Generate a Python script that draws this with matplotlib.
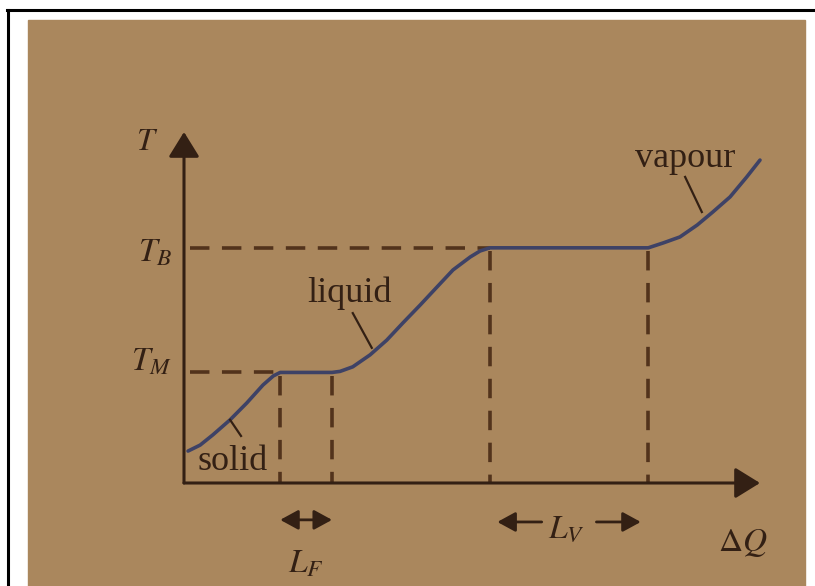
import matplotlib
matplotlib.use('Agg')
import matplotlib.pyplot as plt
from matplotlib.lines import Line2D
from matplotlib.patches import Rectangle

plt.rcParams['font.family'] = ['Liberation Serif', 'DejaVu Serif']
plt.rcParams['mathtext.fontset'] = 'stix'
plt.rcParams['lines.scale_dashes'] = False

# phase change temperatures and the heat ranges they span
T_M = 31.5
T_B = 67.0
Q_MELT = (16.7, 25.7)
Q_BOIL = (53.1, 80.6)

# heating curve, one piece per phase (heat in, temperature out)
solid_q = [0.7, 2.8, 5.0, 8.0, 10.9, 13.7, 15.5, 16.7]
solid_t = [9.1, 10.8, 13.7, 18.0, 22.8, 27.9, 30.5, 31.5]
liquid_q = [25.7, 27.1, 29.3, 32.3, 35.2, 38.0, 41.0, 43.9, 46.7, 49.7, 51.4, 53.1]
liquid_t = [31.5, 31.8, 33.1, 36.5, 40.7, 45.6, 50.7, 55.8, 60.7, 64.4, 66.1, 67.0]
vapour_q = [80.6, 83.2, 86.1, 89.1, 91.8, 94.8, 97.7, 100.0]
vapour_t = [67.0, 68.4, 70.1, 73.5, 77.2, 81.5, 87.2, 92.0]

# phase labels: text position and where the pointer meets the curve
phase_labels = ['solid', 'liquid', 'vapour']
label_xy = [(8.5, 3.7), (28.8, 51.6), (87.0, 90.0)]
pointer_from = [(9.9, 13.4), (32.6, 38.5), (89.9, 77.2)]
pointer_to = [(8.0, 18.0), (29.3, 48.4), (87.0, 87.2)]

INK = '#332014'
DASH = '#52331c'
CURVE = '#3e4266'
PAPER = '#aa875d'

W, H = 815, 586
fig = plt.figure(figsize=(W / 100, H / 100), dpi=100)
fig.patch.set_facecolor('white')

# page frame and the paper behind the figure
fig.add_artist(Line2D([7 / W, 1], [1 - 10 / H, 1 - 10 / H], color='black', lw=2.2))
fig.add_artist(Line2D([8 / W, 8 / W], [0, 1 - 10 / H], color='black', lw=2.2))
fig.add_artist(Rectangle((28 / W, 0), 777 / W, 1 - 20 / H, color=PAPER, zorder=0))

ax = fig.add_axes([184 / W, 103 / H, 576 / W, 351 / H])
ax.set_xlim(0, 100)
ax.set_ylim(0, 100)
ax.axis('off')

# axes with arrow heads
axis_arrow = dict(arrowstyle='-|>,head_length=0.55,head_width=0.34', mutation_scale=28,
                  lw=2.2, color=INK, shrinkA=0, shrinkB=0)
ax.annotate('', xy=(0, 100), xytext=(0, 0), arrowprops=axis_arrow, annotation_clip=False)
ax.annotate('', xy=(100, 0), xytext=(0, 0), arrowprops=axis_arrow, annotation_clip=False)

# dashed guides to the plateaus
dash = dict(color=DASH, lw=2.6, dashes=(14, 9), clip_on=False, solid_capstyle='butt')
ax.plot([1, Q_MELT[0]], [T_M, T_M], **dash)
ax.plot([1, Q_BOIL[0]], [T_B, T_B], **dash)
for q in Q_MELT:
    ax.plot([q, q], [T_M - 1, 0], **dash)
for q in Q_BOIL:
    ax.plot([q, q], [T_B - 1, 0], **dash)

# heating curve
ax.plot(solid_q + liquid_q + vapour_q, solid_t + liquid_t + vapour_t,
        color=CURVE, lw=2.6, solid_joinstyle='round', solid_capstyle='round', clip_on=False)

for name, (tx, ty), p0, p1 in zip(phase_labels, label_xy, pointer_from, pointer_to):
    ax.text(tx, ty, name, fontsize=26, color=INK, ha='center', va='baseline')
    ax.plot([p0[0], p1[0]], [p0[1], p1[1]], color=INK, lw=1.6, clip_on=False)

# axis labels
ax.text(-6.4, 94.9, r'$T$', fontsize=23, color=INK, ha='center', va='baseline')
ax.text(-2.1, T_B - 4, r'$T_B$', fontsize=24, color=INK, ha='right', va='baseline')
ax.text(-2.1, T_M + 0.5, r'$T_M$', fontsize=24, color=INK, ha='right', va='baseline')
ax.text(97.0, -19.5, r'$\Delta Q$', fontsize=24, color=INK, ha='center', va='baseline')

# latent heat spans
small_arrow = dict(arrowstyle='<|-|>,head_length=0.55,head_width=0.3', mutation_scale=20,
                   lw=2.0, color=INK, shrinkA=0, shrinkB=0)
ax.annotate('', xy=(Q_MELT[0], -10.5), xytext=(Q_MELT[1], -10.5),
            arrowprops=small_arrow, annotation_clip=False)
ax.text(sum(Q_MELT) / 2, -25.5, r'$L_F$', fontsize=24, color=INK, ha='center', va='baseline')

one_arrow = dict(arrowstyle='-|>,head_length=0.55,head_width=0.3', mutation_scale=20,
                 lw=2.0, color=INK, shrinkA=0, shrinkB=0)
ax.annotate('', xy=(Q_BOIL[0] + 1.3, -11.1), xytext=(Q_BOIL[0] + 9.0, -11.1),
            arrowprops=one_arrow, annotation_clip=False)
ax.annotate('', xy=(Q_BOIL[1] - 1.3, -11.1), xytext=(Q_BOIL[1] - 9.0, -11.1),
            arrowprops=one_arrow, annotation_clip=False)
ax.text(sum(Q_BOIL) / 2 - 0.5, -15.5, r'$L_V$', fontsize=24, color=INK, ha='center', va='baseline')

fig.savefig('out.png', dpi=100, facecolor='white')
